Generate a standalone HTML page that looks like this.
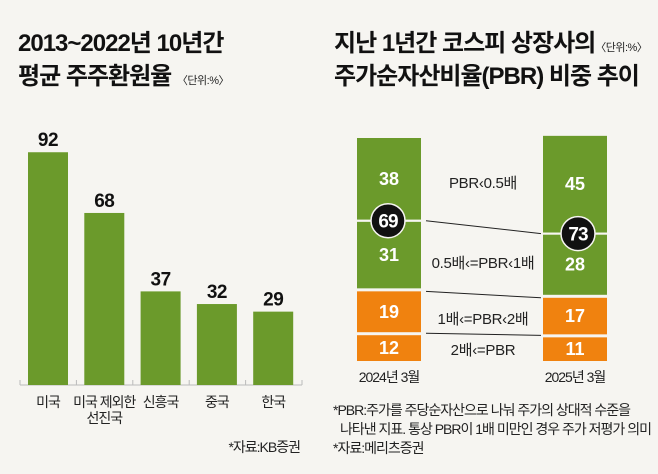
<!DOCTYPE html>
<html><head><meta charset="utf-8"><style>
body{margin:0;background:#f6f5f1;}
svg{display:block;font-family:"Liberation Sans","Noto Sans CJK KR",sans-serif;}
.t{font-weight:bold;font-size:24px;letter-spacing:-1px;fill:#111;}
.u{font-size:11px;font-weight:normal;fill:#222;letter-spacing:-0.5px;}
.n{font-size:14px;fill:#222;letter-spacing:-1px;}
</style></head><body>
<svg id="c" width="658" height="474" viewBox="0 0 658 474">
<rect width="658" height="474" fill="#f6f5f1"/>
<text class="t" x="18" y="51">2013~2022년 10년간</text>
<text class="t" x="18" y="84">평균 주주환원율 <tspan class="u">〈단위:%〉</tspan></text>
<text class="t" x="334" y="51">지난 1년간 코스피 상장사의<tspan class="u">〈단위:%〉</tspan></text>
<text class="t" x="334" y="84">주가순자산비율(PBR) 비중 추이</text>
<g id="left"></g><g id="right"></g>
<text class="n" x="300" y="452" text-anchor="end">*자료:KB증권</text>
<text class="n" x="333" y="415">*PBR:주가를 주당순자산으로 나눠 주가의 상대적 수준을</text>
<text class="n" x="340" y="434">나타낸 지표. 통상 PBR이 1배 미만인 경우 주가 저평가 의미</text>
<text class="n" x="333" y="453">*자료:메리츠증권</text>
</svg>
<script>
const categories=["미국","미국 제외한|선진국","신흥국","중국","한국"];
const payoutValues=[92,68,37,32,29];
const periods=["2024년 3월","2025년 3월"];
const under05=[38,45];
const from05to1=[31,28];
const from1to2=[19,17];
const over2=[12,11];
const bandLabels=["PBR‹0.5배","0.5배‹=PBR‹1배","1배‹=PBR‹2배","2배‹=PBR"];
const NS="http://www.w3.org/2000/svg";
function mk(p,t,a,txt){const e=document.createElementNS(NS,t);for(const k in a)e.setAttribute(k,a[k]);if(txt!=null)e.textContent=txt;p.appendChild(e);return e;}
const GREEN="#6b9a2b",ORANGE="#f0820f";
const L=document.getElementById('left');
const base=385,ys=v=>base-v*2.53,xs=i=>28+i*56.3;
const ax=mk(L,'path',{d:'M20 '+base+' H302',stroke:'#bbb','stroke-width':1,fill:'none'});

for(let i=0;i<=5;i++){const tk=mk(L,'line',{x1:20+i*56.4,x2:20+i*56.4,y1:base-5,y2:base,stroke:'#bbb'});
}
payoutValues.forEach((v,i)=>{
 const r=mk(L,'rect',{x:xs(i),y:ys(v),width:40,height:base-ys(v),fill:GREEN});
 
 const t=mk(L,'text',{x:xs(i)+20,y:ys(v)-6,'text-anchor':'middle','font-size':19,'font-weight':'bold',fill:'#111','letter-spacing':-0.5},v);
 
 categories[i].split('|').forEach((s,j)=>{
  const c=mk(L,'text',{x:xs(i)+20,y:407+j*16,'text-anchor':'middle','font-size':14,fill:'#222','letter-spacing':-1},s);
  });
});
const R=document.getElementById('right');
const bx=[357,543],bw=64,bottom=361,k=2.15;
const tops=[];
periods.forEach((p,i)=>{
 let y=bottom;const segs=[[over2[i],ORANGE,3],[from1to2[i],ORANGE,3],[from05to1[i],GREEN,2],[under05[i],GREEN,0]];
 const pos=[];
 segs.forEach(([v,col,gap])=>{const h=v*k;y-=h;
  const r=mk(R,'rect',{x:bx[i],y:y,width:bw,height:h,fill:col});
  
  const t=mk(R,'text',{x:bx[i]+bw/2,y:y+h/2+6,'text-anchor':'middle','font-size':18,'font-weight':'bold',fill:'#fff'},v);
  
  pos.push(y);y-=gap;});
 tops.push(pos);
 const lbl=mk(R,'text',{x:bx[i]+bw/2,y:382,'text-anchor':'middle','font-size':14,fill:'#222','letter-spacing':-1},p);
 
});
periods.forEach((p,i)=>{
 const cy=tops[i][2]-1;
 const ln=mk(R,'line',{x1:bx[i]-2,x2:bx[i]+bw+2,y1:cy,y2:cy,stroke:'#f6f5f1','stroke-width':2});
 
 const cx=i==0?388:578;
 const c=mk(R,'circle',{cx:cx,cy:cy,r:17,fill:'#111',stroke:'#f6f5f1','stroke-width':1.5});
 
 const t=mk(R,'text',{x:cx,y:cy+7,'text-anchor':'middle','font-size':19,'font-weight':'bold',fill:'#fff','letter-spacing':-1},under05[i]+from05to1[i]);
 
});
[[2,0],[1,0],[0,-2]].forEach(([s,o])=>{
 const y1=s==2?tops[0][2]-1:tops[0][s]+o, y2=s==2?tops[1][2]-1:tops[1][s]+o;
 const l=mk(R,'line',{x1:426,x2:541,y1:y1,y2:y2,stroke:'#222','stroke-width':1});
 
});
const bandY=[183,263,319,350];
bandLabels.forEach((s,i)=>{
 const t=mk(R,'text',{x:483,y:bandY[i]+5,'text-anchor':'middle','font-size':15,fill:'#222','letter-spacing':-0.3},s);
 
});
</script>
</body></html>
